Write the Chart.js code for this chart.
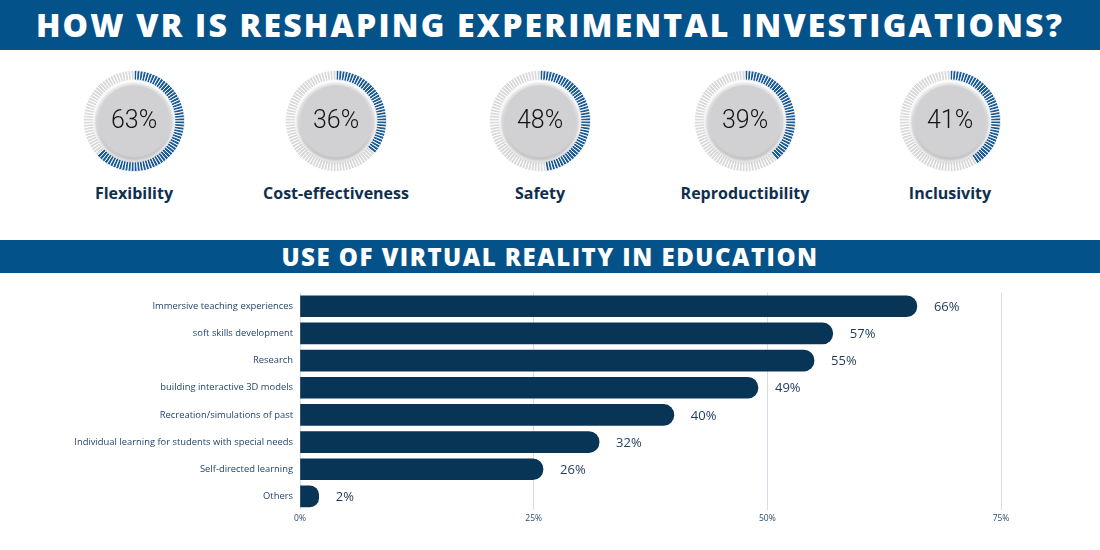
<!DOCTYPE html>
<html>
<head>
<meta charset="utf-8">
<script src="https://cdn.jsdelivr.net/npm/chart.js@4.4.1/dist/chart.umd.min.js"></script>
<style>
  body { margin: 0; background: #fff; }
  #page { position: relative; width: 1100px; height: 550px; overflow: hidden; background: #fff; font-family: 'Open Sans', sans-serif; }
  .banner { position: absolute; left: 0; width: 1100px; background: #04528a; color: #fff; text-align: center; font-weight: 800; white-space: nowrap; }
  #title { top: 0; height: 50px; line-height: 50px; font-size: 32px; letter-spacing: 2.2px; }
  #subtitle { top: 240px; height: 33px; line-height: 33px; font-size: 24px; letter-spacing: 1.5px; }
  .gauge { position: absolute; top: 61px; width: 120px; height: 120px; }
  .gauge-label { position: absolute; top: 182px; width: 200px; text-align: center; font-size: 16px; font-weight: 700; color: #0f2f4f; }
  #barWrap { position: absolute; left: 0; top: 280px; width: 1100px; height: 250px; }
</style>
</head>
<body>
<div id="page">
  <div class="banner" id="title">HOW VR IS RESHAPING EXPERIMENTAL INVESTIGATIONS?</div>
  <div class="banner" id="subtitle">USE OF VIRTUAL REALITY IN EDUCATION</div>
  <div id="gauges"></div>
  <div id="barWrap"><canvas id="bars"></canvas></div>
</div>
<script>
// gauge data
const gaugeLabels = ['Flexibility', 'Cost-effectiveness', 'Safety', 'Reproductibility', 'Inclusivity'];
const gaugeValues = [63, 36, 48, 39, 41];

// bar chart data
const categories = [
  'Immersive teaching experiences',
  'soft skills development',
  'Research',
  'building interactive 3D models',
  'Recreation/simulations of past',
  'Individual learning for students with special needs',
  'Self-directed learning',
  'Others'
];
const shares = [66, 57, 55, 49, 40, 32, 26, 2];
const axisTicks = [0, 25, 50, 75];

const gaugeCenters = [134, 336, 540, 745, 950];
const TICKS = 100;

// disc + percentage in the middle of each ring
const gaugeCenter = {
  id: 'gaugeCenter',
  afterDraw(chart) {
    const arc = chart.getDatasetMeta(0).data[0];
    const { x, y } = arc;
    const r = arc.innerRadius - 3;
    const ctx = chart.ctx;
    ctx.save();
    ctx.shadowColor = 'rgba(0,0,0,0.3)';
    ctx.shadowBlur = 5;
    ctx.shadowOffsetY = 2;
    const g = ctx.createLinearGradient(0, y - r, 0, y + r);
    g.addColorStop(0, '#e6e6e8');
    g.addColorStop(1, '#c6c6c8');
    ctx.beginPath();
    ctx.arc(x, y, r, 0, Math.PI * 2);
    ctx.fillStyle = g;
    ctx.fill();
    ctx.restore();

    ctx.save();
    ctx.beginPath();
    ctx.arc(x, y, r - 2, 0, Math.PI * 2);
    ctx.fillStyle = '#d1d1d3';
    ctx.fill();
    ctx.fillStyle = '#141414';
    ctx.font = '300 25px Roboto';
    ctx.textAlign = 'center';
    ctx.textBaseline = 'middle';
    ctx.fillText(chart.options.plugins.gaugeCenter.text, x, y + 1);
    ctx.restore();
  }
};

const holder = document.getElementById('gauges');
gaugeValues.forEach((v, i) => {
  const div = document.createElement('div');
  div.className = 'gauge';
  div.style.left = (gaugeCenters[i] - 60) + 'px';
  const cv = document.createElement('canvas');
  div.appendChild(cv);
  holder.appendChild(div);

  const lab = document.createElement('div');
  lab.className = 'gauge-label';
  lab.style.left = (gaugeCenters[i] - 100) + 'px';
  lab.textContent = gaugeLabels[i];
  holder.appendChild(lab);

  const segs = new Array(TICKS).fill(1);
  const cols = segs.map((_, k) => k < v ? '#1a5b97' : '#dadada');
  new Chart(cv, {
    type: 'doughnut',
    data: {
      datasets: [{
        data: segs,
        backgroundColor: cols,
        borderColor: '#ffffff',
        borderWidth: 1
      }]
    },
    options: {
      responsive: true,
      maintainAspectRatio: false,
      animation: false,
      cutout: '81%',
      layout: { padding: 9 },
      events: [],
      plugins: {
        legend: { display: false },
        tooltip: { enabled: false },
        gaugeCenter: { text: v + '%' }
      }
    },
    plugins: [gaugeCenter]
  });
});

// value labels at the end of every bar
const valueLabels = {
  id: 'valueLabels',
  afterDatasetsDraw(chart) {
    const ctx = chart.ctx;
    const meta = chart.getDatasetMeta(0);
    ctx.save();
    ctx.font = '13px "Open Sans"';
    ctx.fillStyle = '#1d3a5a';
    ctx.textAlign = 'left';
    ctx.textBaseline = 'middle';
    meta.data.forEach((bar, i) => {
      ctx.fillText(shares[i] + '%', bar.x + 17, bar.y + 1);
    });
    ctx.restore();
  }
};

new Chart(document.getElementById('bars'), {
  type: 'bar',
  data: {
    labels: categories,
    datasets: [{
      data: shares,
      backgroundColor: '#083456',
      borderRadius: 11,
      borderSkipped: 'start',
      barThickness: 21
    }]
  },
  options: {
    indexAxis: 'y',
    responsive: true,
    maintainAspectRatio: false,
    animation: false,
    layout: { padding: { top: 0, right: 99, bottom: 0, left: 0 } },
    scales: {
      x: {
        min: 0,
        max: 75,
        afterBuildTicks(scale) {
          scale.ticks = axisTicks.map(t => ({ value: t }));
        },
        afterFit(scale) { scale.height = 20; },
        grid: { color: '#d6dde5', drawTicks: false },
        border: { display: false },
        ticks: {
          padding: 3,
          color: '#2b4a6b',
          font: { family: 'Open Sans', size: 8.5 },
          callback: v => v + '%'
        }
      },
      y: {
        afterFit(scale) { scale.width = 300; },
        grid: { display: false, drawTicks: false },
        border: { display: false },
        ticks: {
          padding: 7,
          color: '#26456a',
          font: { family: 'Open Sans', size: 9.4 }
        }
      }
    },
    plugins: {
      legend: { display: false },
      tooltip: { enabled: false }
    }
  },
  plugins: [valueLabels]
});
</script>
</body>
</html>
